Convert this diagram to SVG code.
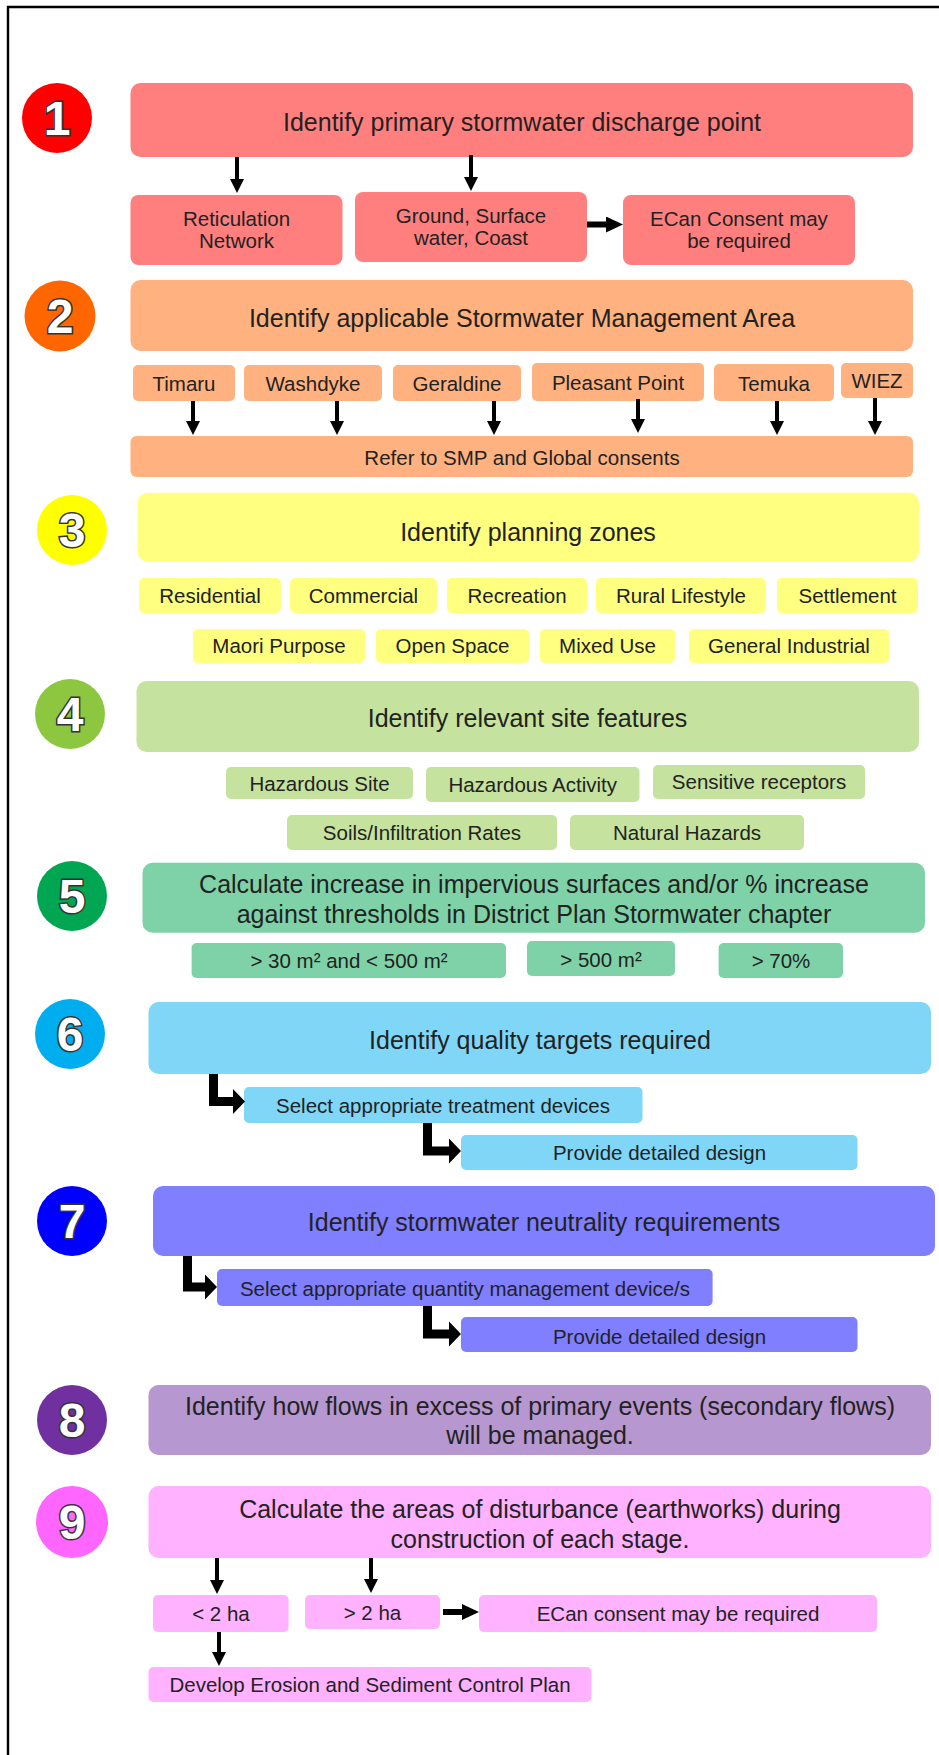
<svg xmlns="http://www.w3.org/2000/svg" width="939" height="1755" viewBox="0 0 939 1755">
<style>
.t{font-family:"Liberation Sans",Arial,sans-serif;fill:#222;text-anchor:middle}
.big{font-size:25px}
.sm{font-size:20.5px}
.num{font-family:"Liberation Sans",Arial,sans-serif;font-weight:bold;font-size:48px;fill:#fff;stroke:#333;stroke-width:3;paint-order:stroke;text-anchor:middle}
.a{stroke:#000;stroke-width:4;fill:none;marker-end:url(#ah)}
.ab{stroke:#000;stroke-width:6;fill:none;marker-end:url(#ahb)}
.bent{fill:#000}
.c1{fill:#FF7F7F}.c2{fill:#FFB27F}.c3{fill:#FFFF80}.c4{fill:#C6E29F}.c5{fill:#7FD2A8}
.c6{fill:#7FD6F7}.c7{fill:#7F7FFF}.c8{fill:#B797CF}.c9{fill:#FFB2FF}
</style>
<defs>
<marker id="ah" markerUnits="userSpaceOnUse" markerWidth="14" markerHeight="14" refX="1" refY="7" orient="auto"><path d="M0,0 L14,7 L0,14 Z" fill="#000"/></marker>
<marker id="ahb" markerUnits="userSpaceOnUse" markerWidth="17" markerHeight="16" refX="1" refY="8" orient="auto"><path d="M0,0 L17,8 L0,16 Z" fill="#000"/></marker>
</defs>
<rect width="939" height="1755" fill="#fff"/>
<path d="M8,1760 V7 H945" fill="none" stroke="#000" stroke-width="2.4"/>

<g id="step1">
<circle cx="57" cy="118" r="35" fill="#FF0000"/>
<text class="num" x="57" y="135">1</text>
<rect class="c1" x="130.5" y="83" width="782.5" height="74" rx="10"/>
<text class="t big" x="522" y="131">Identify primary stormwater discharge point</text>
</g>
<g id="reticulation">
<rect class="c1" x="130.5" y="195" width="212" height="70" rx="8"/>
<text class="t sm" x="236.5" y="226">Reticulation</text>
<text class="t sm" x="236.5" y="247.5">Network</text>
</g>
<g id="ground">
<rect class="c1" x="355" y="192" width="232" height="70" rx="8"/>
<text class="t sm" x="471" y="223">Ground, Surface</text>
<text class="t sm" x="471" y="245">water, Coast</text>
</g>
<g id="ecan1">
<rect class="c1" x="623" y="195" width="232" height="70" rx="8"/>
<text class="t sm" x="739" y="226">ECan Consent may</text>
<text class="t sm" x="739" y="248">be required</text>
</g>

<g id="step2">
<circle cx="60" cy="316" r="35.5" fill="#FF6600"/>
<text class="num" x="60" y="333">2</text>
<rect class="c2" x="130.5" y="280" width="782.5" height="71" rx="10"/>
<text class="t big" x="522" y="327">Identify applicable Stormwater Management Area</text>
</g>
<g id="timaru"><rect class="c2" x="133" y="365" width="102" height="36" rx="5"/><text class="t sm" x="184" y="391">Timaru</text></g>
<g id="washdyke"><rect class="c2" x="244" y="365" width="138" height="36" rx="5"/><text class="t sm" x="313" y="391">Washdyke</text></g>
<g id="geraldine"><rect class="c2" x="393" y="365" width="128" height="36" rx="5"/><text class="t sm" x="457" y="391">Geraldine</text></g>
<g id="pleasant"><rect class="c2" x="532" y="363" width="172" height="38" rx="5"/><text class="t sm" x="618" y="390">Pleasant Point</text></g>
<g id="temuka"><rect class="c2" x="714" y="364" width="120" height="37" rx="5"/><text class="t sm" x="774" y="391">Temuka</text></g>
<g id="wiez"><rect class="c2" x="841" y="363" width="72" height="35" rx="5"/><text class="t sm" x="877" y="388">WIEZ</text></g>
<g id="refer"><rect class="c2" x="130.5" y="436" width="782.5" height="41" rx="6"/><text class="t sm" x="522" y="465">Refer to SMP and Global consents</text></g>

<g id="step3">
<circle cx="72" cy="530" r="35" fill="#FFFF00"/>
<text class="num" x="72" y="547">3</text>
<rect class="c3" x="137.7" y="492.7" width="781.3" height="69" rx="10"/>
<text class="t big" x="528" y="541">Identify planning zones</text>
</g>
<g id="residential"><rect class="c3" x="139" y="578" width="142" height="35" rx="5"/><text class="t sm" x="210" y="603">Residential</text></g>
<g id="commercial"><rect class="c3" x="290" y="578" width="147" height="35" rx="5"/><text class="t sm" x="363.5" y="603">Commercial</text></g>
<g id="recreation"><rect class="c3" x="447" y="578" width="140" height="35" rx="5"/><text class="t sm" x="517" y="603">Recreation</text></g>
<g id="rural"><rect class="c3" x="596" y="578" width="170" height="35" rx="5"/><text class="t sm" x="681" y="603">Rural Lifestyle</text></g>
<g id="settlement"><rect class="c3" x="777" y="578" width="141" height="35" rx="5"/><text class="t sm" x="847.5" y="603">Settlement</text></g>
<g id="maori"><rect class="c3" x="193" y="629" width="172" height="34" rx="5"/><text class="t sm" x="279" y="653">Maori Purpose</text></g>
<g id="openspace"><rect class="c3" x="376" y="629" width="153" height="34" rx="5"/><text class="t sm" x="452.5" y="653">Open Space</text></g>
<g id="mixed"><rect class="c3" x="540" y="629" width="135" height="34" rx="5"/><text class="t sm" x="607.5" y="653">Mixed Use</text></g>
<g id="industrial"><rect class="c3" x="689" y="629" width="200" height="34" rx="5"/><text class="t sm" x="789" y="653">General Industrial</text></g>

<g id="step4">
<circle cx="70" cy="714" r="35" fill="#8DC63F"/>
<text class="num" x="70" y="731">4</text>
<rect class="c4" x="136.5" y="681" width="782.5" height="71" rx="10"/>
<text class="t big" x="527.5" y="727">Identify relevant site features</text>
</g>
<g id="hazsite"><rect class="c4" x="226" y="767" width="187" height="32" rx="5"/><text class="t sm" x="319.5" y="791">Hazardous Site</text></g>
<g id="hazact"><rect class="c4" x="426" y="767" width="213.5" height="35" rx="5"/><text class="t sm" x="532.7" y="792">Hazardous Activity</text></g>
<g id="sensitive"><rect class="c4" x="653" y="765" width="212" height="34" rx="5"/><text class="t sm" x="759" y="789">Sensitive receptors</text></g>
<g id="soils"><rect class="c4" x="287" y="815" width="270" height="35" rx="5"/><text class="t sm" x="422" y="840">Soils/Infiltration Rates</text></g>
<g id="natural"><rect class="c4" x="570" y="815" width="234" height="35" rx="5"/><text class="t sm" x="687" y="840">Natural Hazards</text></g>

<g id="step5">
<circle cx="72" cy="896" r="35" fill="#00A651"/>
<text class="num" x="72" y="913">5</text>
<rect class="c5" x="142.5" y="862.7" width="782.5" height="70" rx="10"/>
<text class="t big" x="534" y="893">Calculate increase in impervious surfaces and/or % increase</text>
<text class="t big" x="534" y="923">against thresholds in District Plan Stormwater chapter</text>
</g>
<g id="t30"><rect class="c5" x="191.6" y="943" width="314.4" height="35" rx="5"/><text class="t sm" x="349" y="968">&gt; 30 m² and &lt; 500 m²</text></g>
<g id="t500"><rect class="c5" x="527" y="941" width="148" height="35" rx="5"/><text class="t sm" x="601" y="967">&gt; 500 m²</text></g>
<g id="t70"><rect class="c5" x="718.6" y="943" width="124.4" height="35" rx="5"/><text class="t sm" x="781" y="968">&gt; 70%</text></g>

<g id="step6">
<circle cx="70" cy="1034" r="35" fill="#00AEEF"/>
<text class="num" x="70" y="1051">6</text>
<rect class="c6" x="148.5" y="1002" width="782.5" height="72" rx="10"/>
<text class="t big" x="540" y="1049">Identify quality targets required</text>
</g>
<g id="treatment"><rect class="c6" x="244" y="1087" width="398.5" height="36" rx="5"/><text class="t sm" x="443" y="1113">Select appropriate treatment devices</text></g>
<g id="design1"><rect class="c6" x="461" y="1135" width="396.5" height="35" rx="5"/><text class="t sm" x="659.5" y="1160">Provide detailed design</text></g>

<g id="step7">
<circle cx="72" cy="1221" r="35" fill="#0000FF"/>
<text class="num" x="72" y="1238">7</text>
<rect class="c7" x="153" y="1186" width="782" height="70" rx="10"/>
<text class="t big" x="544" y="1231">Identify stormwater neutrality requirements</text>
</g>
<g id="quantity"><rect class="c7" x="217" y="1269" width="495.6" height="37" rx="5"/><text class="t sm" x="465" y="1296">Select appropriate quantity management device/s</text></g>
<g id="design2"><rect class="c7" x="461" y="1317" width="396.5" height="35" rx="5"/><text class="t sm" x="659.5" y="1344">Provide detailed design</text></g>

<g id="step8">
<circle cx="72" cy="1420" r="35" fill="#7030A0"/>
<text class="num" x="72" y="1437">8</text>
<rect class="c8" x="148.5" y="1385" width="782.5" height="70" rx="10"/>
<text class="t big" x="540" y="1415">Identify how flows in excess of primary events (secondary flows)</text>
<text class="t big" x="540" y="1444">will be managed.</text>
</g>

<g id="step9">
<circle cx="72" cy="1522" r="36" fill="#FF66FF"/>
<text class="num" x="72" y="1539">9</text>
<rect class="c9" x="148.5" y="1486" width="782.5" height="72" rx="10"/>
<text class="t big" x="540" y="1518">Calculate the areas of disturbance (earthworks) during</text>
<text class="t big" x="540" y="1548">construction of each stage.</text>
</g>
<g id="lt2"><rect class="c9" x="153" y="1595" width="135.6" height="37" rx="5"/><text class="t sm" x="221" y="1621">&lt; 2 ha</text></g>
<g id="gt2"><rect class="c9" x="305" y="1595" width="135" height="34" rx="5"/><text class="t sm" x="372.5" y="1620">&gt; 2 ha</text></g>
<g id="ecan2"><rect class="c9" x="479" y="1595" width="398" height="37" rx="5"/><text class="t sm" x="678" y="1621">ECan consent may be required</text></g>
<g id="esc"><rect class="c9" x="148.5" y="1667" width="443" height="35" rx="5"/><text class="t sm" x="370" y="1692">Develop Erosion and Sediment Control Plan</text></g>

<g id="connectors">
<line class="a" x1="237" y1="157" x2="237" y2="180"/>
<line class="a" x1="471" y1="155" x2="471" y2="178"/>
<line class="ab" x1="587" y1="224.5" x2="607" y2="224.5"/>
<line class="a" x1="193" y1="401" x2="193" y2="422"/>
<line class="a" x1="337" y1="401" x2="337" y2="422"/>
<line class="a" x1="494" y1="401" x2="494" y2="422"/>
<line class="a" x1="638" y1="399" x2="638" y2="420"/>
<line class="a" x1="777" y1="401" x2="777" y2="422"/>
<line class="a" x1="875" y1="398" x2="875" y2="422"/>
<path class="bent" d="M209,1074 H218 V1097 H233 V1089 L245,1101.5 L233,1114 V1106 H209 Z"/>
<path class="bent" d="M423,1123 H432 V1146.5 H449 V1138.5 L461,1151 L449,1163.5 V1155.5 H423 Z"/>
<path class="bent" d="M183,1256 H192 V1282.5 H205 V1274.5 L217,1287 L205,1299.5 V1291.5 H183 Z"/>
<path class="bent" d="M423,1306 H432 V1329.5 H449 V1321.5 L461,1334 L449,1346.5 V1338.5 H423 Z"/>
<line class="a" x1="217" y1="1558" x2="217" y2="1581"/>
<line class="a" x1="371" y1="1558" x2="371" y2="1580"/>
<line class="ab" x1="443" y1="1612" x2="463" y2="1612"/>
<line class="a" x1="219" y1="1632" x2="219" y2="1653"/>
</g>
</svg>
